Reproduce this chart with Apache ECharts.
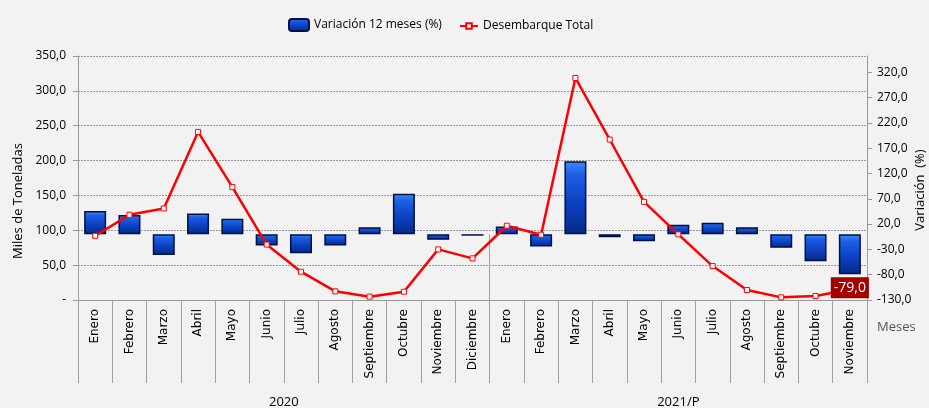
<!DOCTYPE html>
<html>
<head>
<meta charset="utf-8">
<script src="https://cdn.jsdelivr.net/npm/echarts@6/dist/echarts.min.js"></script>
<style>
html,body{margin:0;padding:0;background:#f2f2f2;}
#chart{width:929px;height:408px;}
</style>
</head>
<body>
<div id="chart"></div>
<script>
const months2020 = ['Enero','Febrero','Marzo','Abril','Mayo','Junio','Julio','Agosto','Septiembre','Octubre','Noviembre','Diciembre'];
const months2021 = ['Enero','Febrero','Marzo','Abril','Mayo','Junio','Julio','Agosto','Septiembre','Octubre','Noviembre'];
const yearLabels = ['2020', '2021/P'];
const rightTicks = [-130, -80, -30, 20, 70, 120, 170, 220, 270, 320];
const desembarque = [92.1, 122.2, 131.3, 241.1, 161.9, 79.5, 40.6, 12.4, 4.8, 11.9, 72.6, 59.7,
                     106.5, 93.6, 318.5, 230.2, 140.8, 94.1, 48.7, 14.3, 3.8, 5.7, 15.0];
const variacion = [45.6, 37.7, -40.9, 41.0, 30.5, -22.4, -37.6, -22.4, 13.9, 80.0, -11.2, -3.0,
                   15.3, -24.4, 144.0, -6.0, -13.9, 18.6, 22.6, 13.9, -27.0, -53.5, -79.0];

const categories = months2020.concat(months2021);
const n2020 = months2020.length, n2021 = months2021.length, nAll = categories.length;
const yearCenters = [n2020 / 2, n2020 + n2021 / 2];
const yearBounds = [0, n2020, nAll];
const fmt = v => v.toFixed(1).replace('.', ',');
const lastIdx = variacion.length - 1;

const barColor = {
  type: 'linear', x: 0, y: 0, x2: 0, y2: 1,
  colorStops: [
    {offset: 0, color: '#3f8dff'},
    {offset: 0.18, color: '#1c5fe6'},
    {offset: 0.6, color: '#0b3fbf'},
    {offset: 1, color: '#062a86'}
  ]
};

// label-only series for the highlighted last value (drawn above the line)
const labelData = variacion.map((v, i) => i === lastIdx ? v : '-');

const chart = echarts.init(document.getElementById('chart'), null, {renderer: 'canvas'});
chart.setOption({
  backgroundColor: '#f2f2f2',
  animation: false,
  textStyle: {fontFamily: 'Open Sans'},
  legend: [{
    top: 13, left: 283, itemGap: 12, itemWidth: 20, itemHeight: 12,
    textStyle: {fontFamily: 'Open Sans', fontSize: 12, color: '#000'},
    data: ['Variación 12 meses (%)']
  }, {
    top: 15, left: 454, itemGap: 12, itemWidth: 18, itemHeight: 7,
    textStyle: {fontFamily: 'Open Sans', fontSize: 12, color: '#000'},
    data: ['Desembarque Total']
  }],
  grid: {left: 78, right: 62, top: 56, bottom: 108, containLabel: false, outerBoundsMode: 'none'},
  xAxis: [{
    type: 'category', data: categories, position: 'bottom',
    boundaryGap: true,
    name: '\n\n\nMeses', nameLocation: 'end', nameGap: 10, nameMoveOverlap: false,
    nameTextStyle: {fontFamily: 'Open Sans', fontSize: 13, color: '#555', lineHeight: 18, verticalAlign: 'middle', align: 'left'},
    axisLine: {show: true, lineStyle: {color: '#999', width: 1}},
    axisTick: {show: true, interval: 0, length: 83, lineStyle: {color: '#a0a0a0'}},
    axisLabel: {interval: 0, rotate: 90, margin: 9, fontFamily: 'DejaVu Sans', fontSize: 12, color: '#000'},
    splitLine: {show: false}
  }, {
    type: 'value', min: 0, max: nAll, position: 'bottom',
    axisLine: {show: false},
    axisTick: {show: true, customValues: yearBounds, length: 108, lineStyle: {color: '#a0a0a0'}},
    axisLabel: {
      customValues: yearCenters, margin: 96,
      formatter: v => yearLabels[yearCenters.indexOf(v)],
      fontFamily: 'Open Sans', fontSize: 13, color: '#000'
    },
    splitLine: {show: false}
  }],
  yAxis: [{
    type: 'value', min: 0, max: 350, interval: 50, position: 'left',
    name: 'Miles de Toneladas', nameLocation: 'middle', nameGap: 52,
    nameTextStyle: {fontFamily: 'Open Sans', fontSize: 13, color: '#000', padding: [0, 46, 0, 0]},
    axisLine: {show: true, lineStyle: {color: '#999'}},
    axisTick: {show: true, length: 5, lineStyle: {color: '#999'}},
    axisLabel: {margin: 12, formatter: v => v === 0 ? '-' : fmt(v), fontFamily: 'Open Sans', fontSize: 12, color: '#000'},
    splitLine: {show: true, lineStyle: {color: '#999', type: [2, 1], width: 1}}
  }, {
    type: 'value', min: -130, max: 352, position: 'right',
    name: 'Variación  (%)', nameLocation: 'middle', nameGap: 47, nameMoveOverlap: false,
    nameTextStyle: {fontFamily: 'Open Sans', fontSize: 13, color: '#000', padding: [0, 24, 0, 0]},
    axisLine: {show: true, lineStyle: {color: '#999'}},
    axisTick: {show: true, length: 5, customValues: rightTicks, lineStyle: {color: '#999'}},
    axisLabel: {customValues: rightTicks, margin: 10, formatter: v => fmt(v), fontFamily: 'Open Sans', fontSize: 12, color: '#000'},
    splitLine: {show: false}
  }],
  series: [{
    name: 'Variación 12 meses (%)', type: 'bar', xAxisIndex: 0, yAxisIndex: 1,
    data: variacion, barWidth: 22, z: 2,
    itemStyle: {color: barColor, borderColor: '#00103f', borderWidth: 1.5}
  }, {
    name: 'Desembarque Total', type: 'line', xAxisIndex: 0, yAxisIndex: 0,
    data: desembarque, z: 5,
    symbol: 'rect', symbolSize: 5, showAllSymbol: true,
    lineStyle: {color: '#ff0000', width: 2.5},
    itemStyle: {color: '#ffffff', borderColor: '#ff0000', borderWidth: 1}
  }, {
    name: 'labelOnly', type: 'bar', xAxisIndex: 0, yAxisIndex: 1,
    data: labelData, barWidth: 22, barGap: '-100%', z: 10, silent: true,
    itemStyle: {color: 'rgba(0,0,0,0)', borderWidth: 0},
    label: {
      show: true, position: 'bottom', distance: 3,
      formatter: p => fmt(p.value),
      color: '#ffffff', backgroundColor: '#a30000',
      padding: [4, 3, 3, 3], fontFamily: 'Open Sans', fontSize: 14
    }
  }]
});
</script>
</body>
</html>
